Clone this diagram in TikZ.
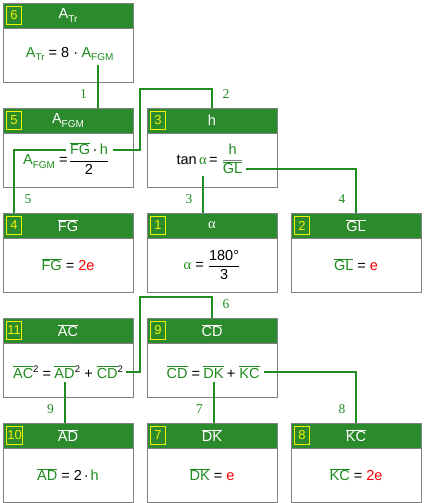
\documentclass[tikz,border=0pt]{standalone}
\usepackage{fontspec}
\setmainfont{Liberation Sans}
\newfontfamily\serifgr{Liberation Serif}
\usepackage{xcolor}
\definecolor{cHead}{HTML}{2B8A2B}
\definecolor{cVar}{HTML}{1E8C1E}
\definecolor{cFrame}{HTML}{808080}
\definecolor{cTag}{HTML}{F2F200}
\definecolor{cGiven}{HTML}{FF0000}
\usepackage{tikz}
\usetikzlibrary{positioning,calc}
\newcommand\seg[1]{\ensuremath{\overline{\mbox{#1}}}}
\newcommand\lo[1]{\raisebox{-3.5pt}{\fontsize{10}{10}\selectfont #1}}
\newcommand\hi[1]{\raisebox{5.5pt}{\fontsize{9.5}{9.5}\selectfont #1}}
\newcommand\vv[1]{\textcolor{cVar}{#1}}
\newcommand\gv[1]{\textcolor{cGiven}{#1}}
\newcommand\al{{\serifgr α}}
\newcommand\frc[2]{$\displaystyle\frac{\mbox{#1}}{\mbox{#2}}$}
\tikzset{
  box-head/.style={draw=cFrame,line width=0.9pt,fill=cHead,text=white,
    minimum width=130pt,minimum height=25pt,inner sep=0pt,outer sep=0pt,
    font=\fontsize{14.5}{16}\selectfont},
  box-body/.style={draw=cFrame,line width=0.9pt,fill=white,
    minimum width=130pt,minimum height=54pt,inner sep=0pt,outer sep=0pt},
  box-tag/.style={draw=cTag,line width=0.8pt,text=cTag,minimum width=15pt,
    minimum height=18pt,inner sep=1pt,font=\fontsize{13}{15}\selectfont},
  term/.style={inner sep=0pt,font=\fontsize{14.5}{17}\selectfont},
  link/.style={draw=cVar,line width=2pt},
  link-no/.style={text=cVar,inner sep=0pt,font=\serifgr\fontsize{13.5}{15}\selectfont},
  no-left/.style={link-no,xshift=-14pt,yshift=14pt},
  no-right/.style={link-no,xshift=14pt,yshift=14pt},
}
\begin{document}
\begin{tikzpicture}[x=1pt,y=1pt,node distance=26pt and 14pt]
  \useasboundingbox (0,0) rectangle (424,-503);
  % row 1
  \node[box-head] (h6) at (68,-15.5) {A\lo{Tr}};
  \node[box-body,below=0pt of h6] (b6) {};
  % row 2
  \node[box-head,below=of b6] (h5) {A\lo{FGM}};
  \node[box-body,below=0pt of h5] (b5) {};
  \node[box-head,right=of h5] (h3) {h};
  \node[box-body,below=0pt of h3] (b3) {};
  % row 3
  \node[box-head,below=of b5] (h4) {\seg{FG}};
  \node[box-body,below=0pt of h4] (b4) {};
  \node[box-head,right=of h4] (h1) {\al};
  \node[box-body,below=0pt of h1] (b1) {};
  \node[box-head,right=of h1] (h2) {\seg{GL}};
  \node[box-body,below=0pt of h2] (b2) {};
  % row 4
  \node[box-head,below=of b4] (h11) {\seg{AC}};
  \node[box-body,below=0pt of h11] (b11) {};
  \node[box-head,right=of h11] (h9) {\seg{CD}};
  \node[box-body,below=0pt of h9] (b9) {};
  % row 5
  \node[box-head,below=of b11] (h10) {\seg{AD}};
  \node[box-body,below=0pt of h10] (b10) {};
  \node[box-head,right=of h10] (h7) {\seg{DK}};
  \node[box-body,below=0pt of h7] (b7) {};
  \node[box-head,right=of h7] (h8) {\seg{KC}};
  \node[box-body,below=0pt of h8] (b8) {};

  % step numbers
  \foreach \n in {1,...,11}
    \node[box-tag,right=3pt of h\n.west] (t\n) {\n};

  % formulas
  \node[term,anchor=base] (e6b) at ($(b6.center)+(29.5,-2)$) {\vv{A\lo{FGM}}};
  \node[term,anchor=base east] (e6a) at (e6b.base west) {\vv{A\lo{Tr}} = 8 ·\kern3pt};

  \node[term,anchor=base] (e5b) at ($(b5.center)+(21,-4.5)$)
    {\frc{\vv{\seg{FG}}\,·\,\vv{h}}{2}};
  \node[term,anchor=base east] (e5a) at (e5b.base west) {\vv{A\lo{FGM}} =\kern1pt};

  \node[term,anchor=base,text=cVar] (e3b) at ($(b3.center)+(-9,-4)$) {\al};
  \node[term,anchor=base east] (e3a) at (e3b.base west) {tan\kern2pt};
  \node[term,anchor=base west] (e3c) at (e3b.base east)
    {\kern2pt= {\color{cFrame}\frc{\vv{h}}{\vv{\seg{GL}}}}};

  \node[term] (e4) at (b4.center) {\vv{\seg{FG}} = \gv{2e}};
  \node[term] (e1) at (b1.center) {\vv{\al} = \frc{180°}{3}};
  \node[term] (e2) at (b2.center) {\vv{\seg{GL}} = \gv{e}};

  \node[term,anchor=base] (e11b) at ($(b11.center)+(-3.5,-8)$) {\vv{\seg{AD}}};
  \node[term,anchor=base east] (e11a) at (e11b.base west) {\vv{\seg{AC}}\hi{2} =\kern3pt};
  \node[term,anchor=base west] (e11c) at (e11b.base east) {\hi{2} + \vv{\seg{CD}}\hi{2}};

  \node[term,anchor=base] (e9b) at ($(b9.center)+(1.5,-8)$) {\vv{\seg{DK}}};
  \node[term,anchor=base east] (e9a) at (e9b.base west) {\vv{\seg{CD}} =\kern3pt};
  \node[term,anchor=base west] (e9c) at (e9b.base east) {\kern3pt+ \vv{\seg{KC}}};

  \node[term] (e10) at (b10.center) {\vv{\seg{AD}} = 2\kern2pt·\kern2pt\vv{h}};
  \node[term] (e7) at (b7.center) {\vv{\seg{DK}} = \gv{e}};
  \node[term] (e8) at (b8.center) {\vv{\seg{KC}} = \gv{2e}};

  % connector ends and bends
  \coordinate (c5) at ($(e5b.north west)+(-3,-8)$);
  \coordinate (c2) at ($(e5b.north east)+(4,-8)$);
  \coordinate (c4) at ($(e3c.south east)+(2,5)$);
  \coordinate (c6) at ($(e11c.base east)+(3,6)$);
  \coordinate (c8) at ($(e9c.base east)+(4,6)$);
  \coordinate (k2) at ($(b6.south east)+(7,-7)$);
  \coordinate (k5) at ($(h4.north west)+(11,0)$);
  \coordinate (k6) at ($(b4.south east)+(7,-5)$);

  \draw[link] ([yshift=-4pt]e6b.south) -- (e6b.south |- h5.north) node[no-left] {1};
  \draw[link] (c2) -| (k2) -| (h3.north) node[no-right] {2};
  \draw[link] ([yshift=-2pt]e3b |- e3c.south) -- (e3b |- h1.north) node[no-left] {3};
  \draw[link] (c4) -| (h2.north) node[no-left] {4};
  \draw[link] (c5) -| (k5) node[no-right] {5};
  \draw[link] (c6) -| (k6) -| (h9.north) node[no-right] {6};
  \draw[link] ([yshift=-4pt]e9b.south) -- (e9b.south |- h7.north) node[no-left] {7};
  \draw[link] (c8) -| (h8.north) node[no-left] {8};
  \draw[link] ([yshift=-4pt]e11b.south) -- (e11b.south |- h10.north) node[no-left] {9};
\end{tikzpicture}
\end{document}
